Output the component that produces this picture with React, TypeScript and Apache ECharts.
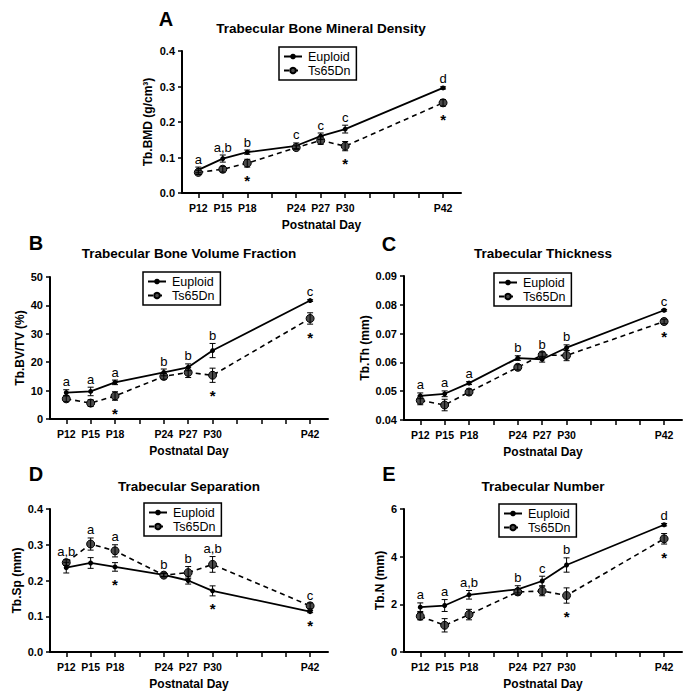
import React, { useEffect, useRef } from "react";
import * as echarts from "echarts";

// ---------- data ----------
const days = [12, 15, 18, 24, 27, 30, 42];
const tickDays = [12, 15, 18, 21, 24, 27, 30, 33, 36, 39, 42];
const labelDays = [12, 15, 18, 24, 27, 30, 42];
const seriesNames = ["Euploid", "Ts65Dn"];

// A: Tb.BMD
const bmdEuploid = [0.065, 0.097, 0.115, 0.133, 0.16, 0.18, 0.296];
const bmdEuploidErr = [0.008, 0.01, 0.006, 0.008, 0.009, 0.011, 0.003];
const bmdTs = [0.058, 0.067, 0.084, 0.128, 0.148, 0.132, 0.254];
const bmdTsErr = [0.006, 0.008, 0.011, 0.005, 0.011, 0.013, 0.009];
const bmdLetters = ["a", "a,b", "b", "c", "c", "c", "d"];
const bmdStars = [false, false, true, false, false, true, true];

// B: Tb.BV/TV
const bvEuploid = [9.3, 9.7, 12.9, 16.4, 18.2, 24.1, 41.7];
const bvEuploidErr = [1.0, 1.5, 0.8, 1.2, 1.2, 2.5, 0.3];
const bvTs = [7.1, 5.6, 8.1, 15.0, 16.4, 15.4, 35.4];
const bvTsErr = [1.0, 1.2, 1.5, 1.0, 1.8, 2.5, 2.0];
const bvLetters = ["a", "a", "a", "b", "b", "b", "c"];
const bvStars = [false, false, true, false, false, true, true];

// C: Tb.Th
const thEuploid = [0.0484, 0.0491, 0.0528, 0.0615, 0.0611, 0.0651, 0.0781];
const thEuploidErr = [0.001, 0.001, 0.0005, 0.0008, 0.001, 0.001, 0.0003];
const thTs = [0.0468, 0.0452, 0.0497, 0.0583, 0.0626, 0.0624, 0.0742];
const thTsErr = [0.0015, 0.002, 0.001, 0.0009, 0.001, 0.0018, 0.0008];
const thLetters = ["a", "a", "a", "b", "b", "b", "c"];
const thStars = [false, false, false, false, false, false, true];

// D: Tb.Sp
const spEuploid = [0.236, 0.249, 0.238, 0.216, 0.2, 0.171, 0.113];
const spEuploidErr = [0.015, 0.015, 0.012, 0.005, 0.01, 0.014, 0.003];
const spTs = [0.25, 0.302, 0.283, 0.215, 0.222, 0.245, 0.129];
const spTsErr = [0.008, 0.017, 0.017, 0.005, 0.017, 0.022, 0.008];
const spLetters = ["a,b", "a", "a", "b", "b", "a,b", "c"];
const spStars = [false, false, true, false, false, true, true];

// E: Tb.N
const nEuploid = [1.88, 1.95, 2.4, 2.63, 2.98, 3.65, 5.34];
const nEuploidErr = [0.18, 0.25, 0.18, 0.15, 0.2, 0.3, 0.05];
const nTs = [1.5, 1.12, 1.57, 2.52, 2.56, 2.37, 4.75];
const nTsErr = [0.15, 0.28, 0.22, 0.12, 0.2, 0.32, 0.22];
const nLetters = ["a", "a", "a,b", "b", "c", "b", "d"];
const nStars = [false, false, false, false, false, true, true];

const panels = [
  { tag: "A", title: "Trabecular Bone Mineral Density", yName: "Tb.BMD (g/cm³)", eu: bmdEuploid, euErr: bmdEuploidErr, ts: bmdTs, tsErr: bmdTsErr, letters: bmdLetters, stars: bmdStars, yMin: 0, yMax: 0.4, yStep: 0.1, dec: 1 },
  { tag: "B", title: "Trabecular Bone Volume Fraction", yName: "Tb.BV/TV (%)", eu: bvEuploid, euErr: bvEuploidErr, ts: bvTs, tsErr: bvTsErr, letters: bvLetters, stars: bvStars, yMin: 0, yMax: 50, yStep: 10, dec: 0 },
  { tag: "C", title: "Trabecular Thickness", yName: "Tb.Th (mm)", eu: thEuploid, euErr: thEuploidErr, ts: thTs, tsErr: thTsErr, letters: thLetters, stars: thStars, yMin: 0.04, yMax: 0.09, yStep: 0.01, dec: 2 },
  { tag: "D", title: "Trabecular Separation", yName: "Tb.Sp (mm)", eu: spEuploid, euErr: spEuploidErr, ts: spTs, tsErr: spTsErr, letters: spLetters, stars: spStars, yMin: 0, yMax: 0.4, yStep: 0.1, dec: 1 },
  { tag: "E", title: "Trabecular Number", yName: "Tb.N (mm)", eu: nEuploid, euErr: nEuploidErr, ts: nTs, tsErr: nTsErr, letters: nLetters, stars: nStars, yMin: 0, yMax: 6, yStep: 2, dec: 0 },
];

// ---------- layout ----------
const layout = [
  { left: 182, top: 51, width: 279, height: 142, titleX: 321, titleY: 28, tagX: 166, tagY: 19, legendX: 279, legendY: 47, yGap: 28 },
  { left: 50, top: 277, width: 278, height: 142, titleX: 189, titleY: 253, tagX: 36, tagY: 243, legendX: 143, legendY: 272, yGap: 24 },
  { left: 404, top: 276, width: 278, height: 144, titleX: 543, titleY: 253, tagX: 389, tagY: 244, legendX: 494, legendY: 273, yGap: 33 },
  { left: 50, top: 509, width: 278, height: 143, titleX: 189, titleY: 486, tagX: 36, tagY: 474, legendX: 144, legendY: 503, yGap: 27 },
  { left: 404, top: 509, width: 278, height: 143, titleX: 543, titleY: 486, tagX: 389, tagY: 474, legendX: 499, legendY: 504, yGap: 18 },
];

const FONT = '"Liberation Sans", Arial, Helvetica, sans-serif';

function buildOption() {
  const grid: any[] = [];
  const xAxis: any[] = [];
  const yAxis: any[] = [];
  const series: any[] = [];
  const legend: any[] = [];
  const graphic: any[] = [];

  panels.forEach((p, i) => {
    const L = layout[i];
    grid.push({ left: L.left, top: L.top, width: L.width, height: L.height, containLabel: false });
    xAxis.push({
      type: "value",
      gridIndex: i,
      min: 10,
      max: 44.2,
      axisLine: { show: true, onZero: false, lineStyle: { color: "#000", width: 2 } },
      axisTick: { show: true, customValues: tickDays, length: 5, lineStyle: { color: "#000", width: 1.5 } },
      axisLabel: { customValues: labelDays, formatter: (v: number) => "P" + v, color: "#000", fontWeight: "bold", fontSize: 10.5, fontFamily: FONT, margin: 9 },
      splitLine: { show: false },
      name: "Postnatal Day",
      nameLocation: "middle",
      nameGap: 26,
      nameTextStyle: { color: "#000", fontWeight: "bold", fontSize: 12, fontFamily: FONT },
    });
    yAxis.push({
      type: "value",
      gridIndex: i,
      min: p.yMin,
      max: p.yMax,
      interval: p.yStep,
      axisLine: { show: true, lineStyle: { color: "#000", width: 2 } },
      axisTick: { show: true, length: 4, lineStyle: { color: "#000", width: 1.5 } },
      axisLabel: { formatter: (v: number) => v.toFixed(p.dec), color: "#000", fontWeight: "bold", fontSize: 11, fontFamily: FONT, margin: 7 },
      splitLine: { show: false },
      name: p.yName,
      nameLocation: "middle",
      nameRotate: 90,
      nameGap: L.yGap,
      nameTextStyle: { color: "#000", fontWeight: "bold", fontSize: 12, fontFamily: FONT },
    });

    const groups = [
      { name: seriesNames[0], vals: p.eu, errs: p.euErr, dashed: false, size: 5, fill: "#000" },
      { name: seriesNames[1], vals: p.ts, errs: p.tsErr, dashed: true, size: 8, fill: "#4a4a4a" },
    ];
    groups.forEach((g) => {
      series.push({
        type: "line",
        name: g.name,
        xAxisIndex: i,
        yAxisIndex: i,
        data: days.map((d, k) => [d, g.vals[k]]),
        symbol: "circle",
        symbolSize: g.size,
        showSymbol: true,
        itemStyle: { color: g.fill, borderColor: "#000", borderWidth: g.dashed ? 1 : 0 },
        lineStyle: { color: "#000", width: g.dashed ? 1.6 : 1.8, type: g.dashed ? [5, 4] : "solid" },
        z: 3,
      });
      series.push({
        type: "custom",
        xAxisIndex: i,
        yAxisIndex: i,
        data: days.map((d, k) => [d, g.vals[k], g.errs[k]]),
        encode: { x: 0, y: 1 },
        z: 4,
        silent: true,
        renderItem: (params: any, api: any) => {
          const x = api.value(0);
          const y = api.value(1);
          const e = api.value(2);
          const a = api.coord([x, y + e]);
          const b = api.coord([x, y - e]);
          const w = 3;
          const st = { stroke: "#000", lineWidth: 1 };
          return {
            type: "group",
            children: [
              { type: "line", shape: { x1: a[0], y1: a[1], x2: b[0], y2: b[1] }, style: st },
              { type: "line", shape: { x1: a[0] - w, y1: a[1], x2: a[0] + w, y2: a[1] }, style: st },
              { type: "line", shape: { x1: b[0] - w, y1: b[1], x2: b[0] + w, y2: b[1] }, style: st },
            ],
          };
        },
      });
    });

    // letters above the upper error bar
    const tops = days.map((d, k) => [d, Math.max(p.eu[k] + p.euErr[k], p.ts[k] + p.tsErr[k])]);
    series.push({
      type: "custom",
      xAxisIndex: i,
      yAxisIndex: i,
      data: tops,
      encode: { x: 0, y: 1 },
      silent: true,
      z: 5,
      renderItem: (params: any, api: any) => {
        const pt = api.coord([api.value(0), api.value(1)]);
        return {
          type: "text",
          x: pt[0],
          y: pt[1] - 1.5,
          style: {
            text: p.letters[params.dataIndex],
            fill: "#000",
            font: "13px " + FONT,
            align: "center",
            verticalAlign: "bottom",
          },
        };
      },
    });
    // asterisks below the lower error bar
    const bots = days
      .map((d, k) => ({ d, k, v: Math.min(p.eu[k] - p.euErr[k], p.ts[k] - p.tsErr[k]) }))
      .filter((o) => p.stars[o.k])
      .map((o) => [o.d, o.v]);
    series.push({
      type: "custom",
      xAxisIndex: i,
      yAxisIndex: i,
      data: bots,
      encode: { x: 0, y: 1 },
      silent: true,
      z: 5,
      renderItem: (params: any, api: any) => {
        const pt = api.coord([api.value(0), api.value(1)]);
        return {
          type: "text",
          x: pt[0],
          y: pt[1] + 13,
          style: {
            text: "*",
            fill: "#000",
            font: "bold 15px " + FONT,
            align: "center",
            verticalAlign: "middle",
          },
        };
      },
    });

    legend.push({
      left: L.legendX,
      top: L.legendY,
      orient: "vertical",
      data: seriesNames,
      borderColor: "#000",
      borderWidth: 1.5,
      borderRadius: 0,
      padding: [3, 6, 3, 4],
      itemGap: 1,
      itemWidth: 18,
      itemHeight: 7,
      selectedMode: false,
      textStyle: { color: "#000", fontSize: 12.5, fontFamily: FONT, padding: [0, 0, 0, 1] },
    });

    graphic.push({
      type: "text",
      x: L.titleX,
      y: L.titleY,
      style: { text: p.title, fill: "#000", font: "bold 13.5px " + FONT, align: "center", verticalAlign: "middle" },
    });
    graphic.push({
      type: "text",
      x: L.tagX,
      y: L.tagY,
      style: { text: p.tag, fill: "#000", font: "bold 20px " + FONT, align: "center", verticalAlign: "middle" },
    });
  });

  return {
    animation: false,
    backgroundColor: "#fff",
    textStyle: { fontFamily: FONT },
    grid,
    xAxis,
    yAxis,
    series,
    legend,
    graphic,
  };
}

export default function App() {
  const ref = useRef<HTMLDivElement>(null);
  useEffect(() => {
    if (!ref.current) return;
    const chart = echarts.init(ref.current, undefined, { renderer: "svg" });
    chart.setOption(buildOption() as any);
    return () => chart.dispose();
  }, []);
  return (
    <div
      ref={ref}
      style={{ position: "absolute", left: 0, top: 0, width: 695, height: 700, background: "#fff" }}
    />
  );
}
